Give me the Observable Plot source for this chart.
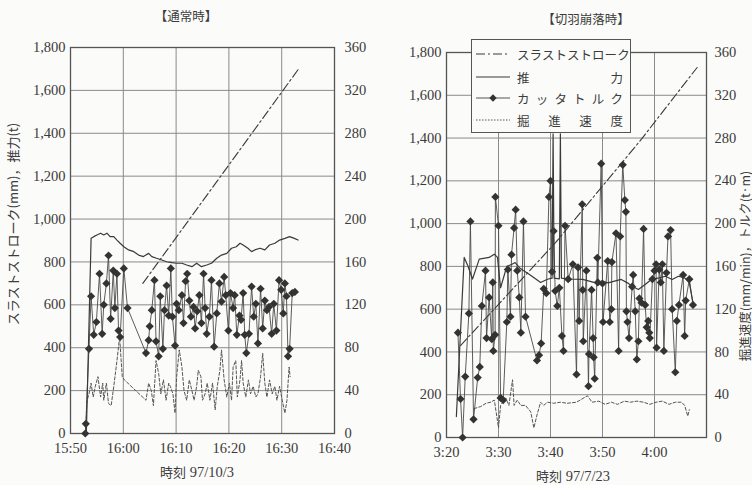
<!DOCTYPE html>
<html>
<head>
<meta charset="utf-8">
<script src="https://cdn.jsdelivr.net/npm/d3@7"></script>
<script src="https://cdn.jsdelivr.net/npm/@observablehq/plot@0.6"></script>
<style>
  html, body { margin: 0; padding: 0; }
  body { width: 752px; height: 485px; overflow: hidden; position: relative; background: #fbfbf9;
         font-family: "Liberation Serif", Tinos, "Times New Roman", "DejaVu Serif", serif; color: #3c3c3c; }
  svg text { font-family: "Liberation Serif", Tinos, "Times New Roman", "DejaVu Serif", serif !important; }
  .panel { position: absolute; top: 0; width: 376px; height: 460px; z-index: 1; }
  .lab { position: absolute; white-space: nowrap; transform: translate(-50%, -50%); font-size: 14.5px; z-index: 2; }
  .jp { font-family: "Noto Sans CJK JP", sans-serif; }
  .rot { transform: translate(-50%, -50%) rotate(-90deg); }
  #legend { position: absolute; left: 471px; top: 39px; width: 160px; height: 94px; border: 1px solid #555;
            background: #fbfbf9; box-sizing: border-box; z-index: 10; }
  .lrow { position: absolute; left: 4px; width: 150px; height: 20px; display: flex; align-items: center; }
  .lrow svg { width: 34px; height: 12px; flex: none; }
  .ltxt { margin-left: 7px; width: 106px; display: flex; justify-content: space-between;
          font-family: "Noto Sans CJK JP", sans-serif; font-size: 12.5px; color: #3c3c3c; }
</style>
</head>
<body>
<div id="left" class="panel" style="left:0px"></div>
<div id="right" class="panel" style="left:376px"></div>

<div class="lab jp" style="left:186px;top:15px;font-size:12.5px">【通常時】</div>
<div class="lab jp" style="left:586px;top:18px;font-size:12.5px">【切羽崩落時】</div>
<div class="lab" style="left:197px;top:471px"><span class="jp" style="font-size:13px">時刻</span> 97/10/3</div>
<div class="lab" style="left:573px;top:475px"><span class="jp" style="font-size:13px">時刻</span> 97/7/23</div>
<div class="lab rot jp" style="left:12px;top:224px;font-size:13px">スラストストローク(mm)，推力(t)</div>
<div class="lab rot jp" style="left:744px;top:266px;font-size:12.5px">掘進速度(mm/min)，トルク(t·m)</div>

<div id="legend"></div>

<script>
// ---------- tick labels ----------
const leftAxisTicks = [0, 200, 400, 600, 800, 1000, 1200, 1400, 1600, 1800];   // mm, t
const rightAxisTicks = [0, 40, 80, 120, 160, 200, 240, 280, 320, 360];          // mm/min, t·m
const normalTimeLabels = ["15:50", "16:00", "16:10", "16:20", "16:30", "16:40"];
const collapseTimeLabels = ["3:20", "3:30", "3:40", "3:50", "4:00"];
const legendLabels = ["スラストストローク", "推力", "カッタトルク", "掘進速度"];

// ---------- 【通常時】 97/10/3 : [minutes after 15:50, value] ----------
const normalStroke = [[13.7, 700], [43.2, 1700]];
const normalThrust = [[3.0, 0], [3.9, 910], [4.4, 918], [5.0, 926], [5.7, 934], [6.3, 926], [6.9, 934], [7.5, 918],
  [8.2, 918], [8.8, 902], [9.4, 887], [10.1, 871], [11.0, 856], [12.0, 848], [12.9, 832], [13.8, 825], [14.8, 840],
  [15.4, 825], [16.3, 817], [17.3, 809], [18.2, 801], [19.2, 797], [20.1, 794], [21.1, 794], [22.0, 786], [23.0, 778],
  [23.9, 794], [24.8, 778], [25.8, 786], [26.7, 794], [27.7, 817], [28.6, 832], [29.6, 840], [30.5, 864], [31.4, 871],
  [32.1, 887], [32.7, 879], [33.6, 864], [34.3, 848], [34.9, 856], [35.9, 864], [36.8, 856], [37.7, 879], [38.7, 887],
  [39.6, 902], [40.6, 910], [41.5, 918], [42.4, 910], [43.1, 902]];
const normalTorque = [[2.8, 0], [2.9, 9], [3.5, 79], [3.9, 128], [4.4, 92], [4.9, 104], [5.5, 149], [6.0, 93], [6.3, 120],
  [6.8, 140], [7.2, 166], [7.6, 107], [8.1, 152], [8.4, 117], [8.8, 149], [9.1, 96], [9.4, 90], [10.1, 154], [10.8, 117],
  [14.3, 75], [14.8, 87], [15.0, 100], [15.4, 115], [15.9, 143], [16.2, 86], [16.7, 72], [17.0, 128], [17.5, 79],
  [17.8, 115], [18.2, 138], [18.6, 110], [19.0, 154], [19.3, 109], [19.8, 82], [20.1, 121], [20.5, 115], [21.1, 129],
  [21.4, 103], [21.8, 142], [22.1, 149], [22.5, 124], [22.8, 109], [23.3, 118], [23.6, 98], [24.0, 114], [24.4, 129],
  [24.8, 103], [25.2, 149], [25.5, 117], [25.8, 93], [26.3, 109], [26.7, 143], [27.2, 81], [27.7, 112], [28.2, 140],
  [28.6, 123], [29.1, 146], [29.4, 129], [29.9, 96], [30.3, 131], [30.8, 117], [31.1, 129], [31.5, 92], [32.0, 110],
  [32.3, 106], [32.7, 131], [33.0, 92], [33.3, 75], [33.8, 93], [34.3, 137], [34.7, 109], [35.1, 121], [35.5, 84],
  [36.0, 135], [36.4, 98], [36.8, 124], [37.2, 115], [37.6, 118], [38.1, 93], [38.5, 121], [39.0, 96], [39.5, 143],
  [39.9, 134], [40.3, 112], [40.6, 140], [40.9, 128], [41.2, 72], [41.5, 79], [42.0, 131], [42.5, 132]];
const normalSpeed = [[2.9, 0], [3.1, 30], [3.5, 37], [3.9, 47], [4.3, 34], [4.7, 44], [5.2, 53], [5.7, 34], [6.1, 47],
  [6.3, 31], [6.8, 47], [7.2, 28], [7.7, 26], [8.2, 44], [8.8, 68], [9.3, 90], [9.8, 53], [10.2, 50], [14.3, 31],
  [14.8, 47], [15.3, 40], [15.7, 26], [16.2, 68], [16.7, 56], [17.1, 37], [17.6, 50], [18.1, 31], [18.6, 47], [18.9, 44],
  [19.4, 37], [19.8, 19], [20.1, 53], [20.6, 78], [21.1, 62], [21.5, 40], [22.0, 31], [22.5, 50], [23.0, 40], [23.4, 31],
  [23.9, 44], [24.2, 59], [24.7, 53], [25.0, 31], [25.5, 37], [25.9, 47], [26.4, 31], [26.9, 47], [27.4, 22], [27.8, 44],
  [28.3, 59], [28.6, 78], [29.1, 50], [29.6, 34], [30.1, 47], [30.5, 31], [30.8, 62], [31.3, 68], [31.6, 34], [32.1, 50],
  [32.4, 68], [32.7, 47], [33.2, 34], [33.7, 50], [34.1, 37], [34.6, 44], [35.1, 34], [35.5, 37], [36.0, 53], [36.4, 75],
  [36.8, 47], [37.2, 34], [37.7, 50], [38.2, 37], [38.7, 44], [39.1, 31], [39.6, 44], [40.1, 31], [40.6, 19], [41.0, 31],
  [41.4, 62], [41.6, 53]];

// ---------- 【切羽崩落時】 97/7/23 : [minutes after 3:20, value] ----------
const collapseStroke = [[2.7, 430], [21.0, 912], [37.3, 1389], [48.2, 1730]];
const collapseThrust = [[1.9, 98], [3.4, 842], [4.1, 803], [5.0, 741], [6.3, 834], [8.2, 842], [9.2, 857], [9.8, 842],
  [10.4, 700], [11.6, 800], [12.6, 810], [13.2, 818], [14.2, 790], [16.1, 760], [18.1, 725], [19.4, 740], [20.3, 745],
  [20.5, 1420], [20.7, 745], [21.7, 742], [21.9, 1420], [22.1, 745], [23.2, 741], [26.2, 739], [28.7, 723], [29.9, 731],
  [31.1, 723], [32.3, 731], [33.6, 739], [34.8, 723], [35.7, 707], [36.9, 692], [38.2, 715], [39.4, 739], [40.9, 746],
  [42.1, 754], [43.4, 739], [44.6, 754], [45.8, 746], [46.7, 723], [47.4, 630]];
const collapseTorque = [[2.2, 98], [2.7, 36], [3.1, 0], [3.6, 57], [4.3, 116], [4.6, 202], [5.2, 17], [6.0, 56], [6.4, 66],
  [6.8, 123], [7.5, 156], [7.7, 93], [8.2, 131], [8.7, 92], [8.9, 145], [9.0, 81], [9.35, 96], [9.4, 225], [10.0, 198],
  [10.4, 37], [10.9, 35], [11.6, 108], [11.8, 157], [12.3, 113], [12.5, 171], [13.0, 196], [13.3, 213], [13.6, 156],
  [14.0, 131], [14.3, 98], [14.8, 202], [15.2, 113], [17.4, 72], [17.8, 77], [18.2, 88], [18.7, 139], [19.2, 135],
  [19.7, 225], [20.0, 240], [20.3, 155], [20.6, 193], [20.9, 137], [21.3, 123], [21.7, 140], [22.2, 95], [22.5, 81],
  [22.8, 198], [23.4, 148], [24.3, 162], [25.0, 59], [25.3, 159], [25.5, 109], [26.1, 218], [26.2, 138], [26.3, 90],
  [26.9, 156], [27.3, 48], [27.4, 78], [27.9, 138], [28.2, 93], [28.3, 75], [28.5, 55], [29.0, 168], [29.1, 145],
  [29.75, 256], [30.0, 144], [30.1, 108], [31.0, 165], [31.4, 108], [31.7, 120], [31.8, 164], [32.6, 191], [33.1, 81],
  [33.4, 188], [33.9, 255], [34.3, 222], [34.5, 211], [34.6, 118], [34.8, 108], [35.1, 93], [35.7, 141], [35.9, 152],
  [36.3, 118], [36.6, 73], [36.9, 90], [37.1, 130], [37.5, 126], [37.9, 195], [38.2, 124], [38.5, 103], [38.8, 109],
  [39.0, 98], [39.1, 93], [39.6, 148], [40.0, 156], [40.3, 162], [40.4, 84], [40.9, 157], [41.2, 145], [41.5, 162],
  [41.8, 81], [42.3, 154], [42.6, 188], [43.1, 194], [43.4, 120], [44.0, 61], [44.3, 109], [44.7, 124], [45.5, 152],
  [45.8, 95], [46.0, 128], [46.7, 148], [47.4, 124]];
const collapseSpeed = [[5.3, 27], [6.6, 29], [7.6, 32], [8.5, 33], [9.2, 35], [10.0, 9], [10.4, 30], [11.4, 37], [12.0, 30],
  [12.7, 54], [13.0, 30], [13.6, 35], [14.3, 30], [15.2, 30], [16.2, 24], [16.8, 9], [17.4, 21], [18.1, 33], [18.7, 30],
  [19.4, 33], [20.6, 32], [21.9, 33], [23.2, 32], [25.0, 33], [27.1, 39], [28.0, 33], [29.3, 34], [30.5, 31], [31.7, 33],
  [32.9, 31], [34.2, 34], [35.4, 33], [36.6, 34], [37.9, 33], [39.1, 31], [40.3, 33], [41.5, 34], [42.8, 31], [44.0, 33],
  [45.2, 33], [45.8, 30], [46.4, 20], [46.7, 26]];

// ---------- drawing ----------
const INK = "#3a3a3a";
const GRID = "#8a8a8a";
const DASH_STROKE = "9,3,2,3";
const DASH_SPEED = "3,2";
const rows = pairs => pairs.map(([t, v]) => ({t, v}));
const ratio = leftAxisTicks[leftAxisTicks.length - 1] / rightAxisTicks[rightAxisTicks.length - 1];
const SERIF = '"Liberation Serif", Tinos, "Times New Roman", "DejaVu Serif", serif';

function makePanel(o) {
  const torque = rows(o.torque), speed = rows(o.speed), thrust = rows(o.thrust), stroke = rows(o.stroke);
  return Plot.plot({
    width: 376, height: 460,
    marginLeft: o.ml, marginRight: o.mr, marginTop: o.mt, marginBottom: o.mb,
    style: {background: "transparent", fontFamily: SERIF, fontSize: "14.5px", color: INK, overflow: "visible"},
    x: {domain: [0, 50], label: null},
    y: {domain: [0, 1800], label: null},
    marks: [
      Plot.gridX([10, 20, 30, 40], {stroke: GRID, strokeOpacity: 1, strokeWidth: 1}),
      Plot.gridY(leftAxisTicks.slice(1, -1), {stroke: GRID, strokeOpacity: 1, strokeWidth: 1}),
      Plot.frame({stroke: "#555", strokeWidth: 1.3}),
      Plot.axisX(o.labels.map((_, i) => i * 10), {anchor: "bottom", tickSize: 0, tickPadding: 9, label: null,
        fontFamily: SERIF, tickFormat: d => o.labels[Math.round(d / 10)]}),
      Plot.axisY(leftAxisTicks, {anchor: "left", tickSize: 0, tickPadding: 5, label: null, fontFamily: SERIF,
        tickFormat: d3.format(",")}),
      Plot.axisY(rightAxisTicks.map(v => v * ratio), {anchor: "right", tickSize: 0, tickPadding: o.rp, label: null,
        fontFamily: SERIF, tickFormat: d => String(Math.round(d / ratio))}),
      Plot.line(speed, {x: "t", y: d => d.v * ratio, stroke: "#555", strokeWidth: 1, strokeDasharray: DASH_SPEED}),
      Plot.line(torque, {x: "t", y: d => d.v * ratio, stroke: "#4a4a4a", strokeWidth: 0.9}),
      Plot.dot(torque, {x: "t", y: d => d.v * ratio, symbol: "diamond2", r: 3.7, fill: "#333", stroke: "none"}),
      Plot.line(thrust, {x: "t", y: "v", stroke: INK, strokeWidth: 1.2}),
      Plot.line(stroke, {x: "t", y: "v", stroke: INK, strokeWidth: 1.1, strokeDasharray: DASH_STROKE})
    ]
  });
}

document.getElementById("left").append(makePanel({
  ml: 70, mr: 42, mt: 47, mb: 27, rp: 10,
  labels: normalTimeLabels,
  stroke: normalStroke, thrust: normalThrust, torque: normalTorque, speed: normalSpeed
}));
document.getElementById("right").append(makePanel({
  ml: 70, mr: 46, mt: 52, mb: 23, rp: 8,
  labels: collapseTimeLabels,
  stroke: collapseStroke, thrust: collapseThrust, torque: collapseTorque, speed: collapseSpeed
}));

// ---------- legend ----------
const legend = document.getElementById("legend");
const samples = [
  `<line x1="0" y1="6" x2="34" y2="6" stroke="${INK}" stroke-width="1.1" stroke-dasharray="${DASH_STROKE}"/>`,
  `<line x1="0" y1="6" x2="34" y2="6" stroke="${INK}" stroke-width="1.2"/>`,
  `<line x1="0" y1="6" x2="34" y2="6" stroke="#555" stroke-width="1"/><path d="M17,2.3L20.7,6L17,9.7L13.3,6Z" fill="#333"/>`,
  `<line x1="0" y1="6" x2="34" y2="6" stroke="#555" stroke-width="1" stroke-dasharray="1.5,1.5"/>`
];
const rowTops = [4, 27, 48, 70];
legendLabels.forEach((txt, i) => {
  const row = document.createElement("div");
  row.className = "lrow";
  row.style.top = rowTops[i] + "px";
  const chars = Array.from(txt).map(c => `<span>${c}</span>`).join("");
  row.innerHTML = `<svg viewBox="0 0 34 12">${samples[i]}</svg><div class="ltxt">${chars}</div>`;
  legend.append(row);
});
</script>
</body>
</html>
